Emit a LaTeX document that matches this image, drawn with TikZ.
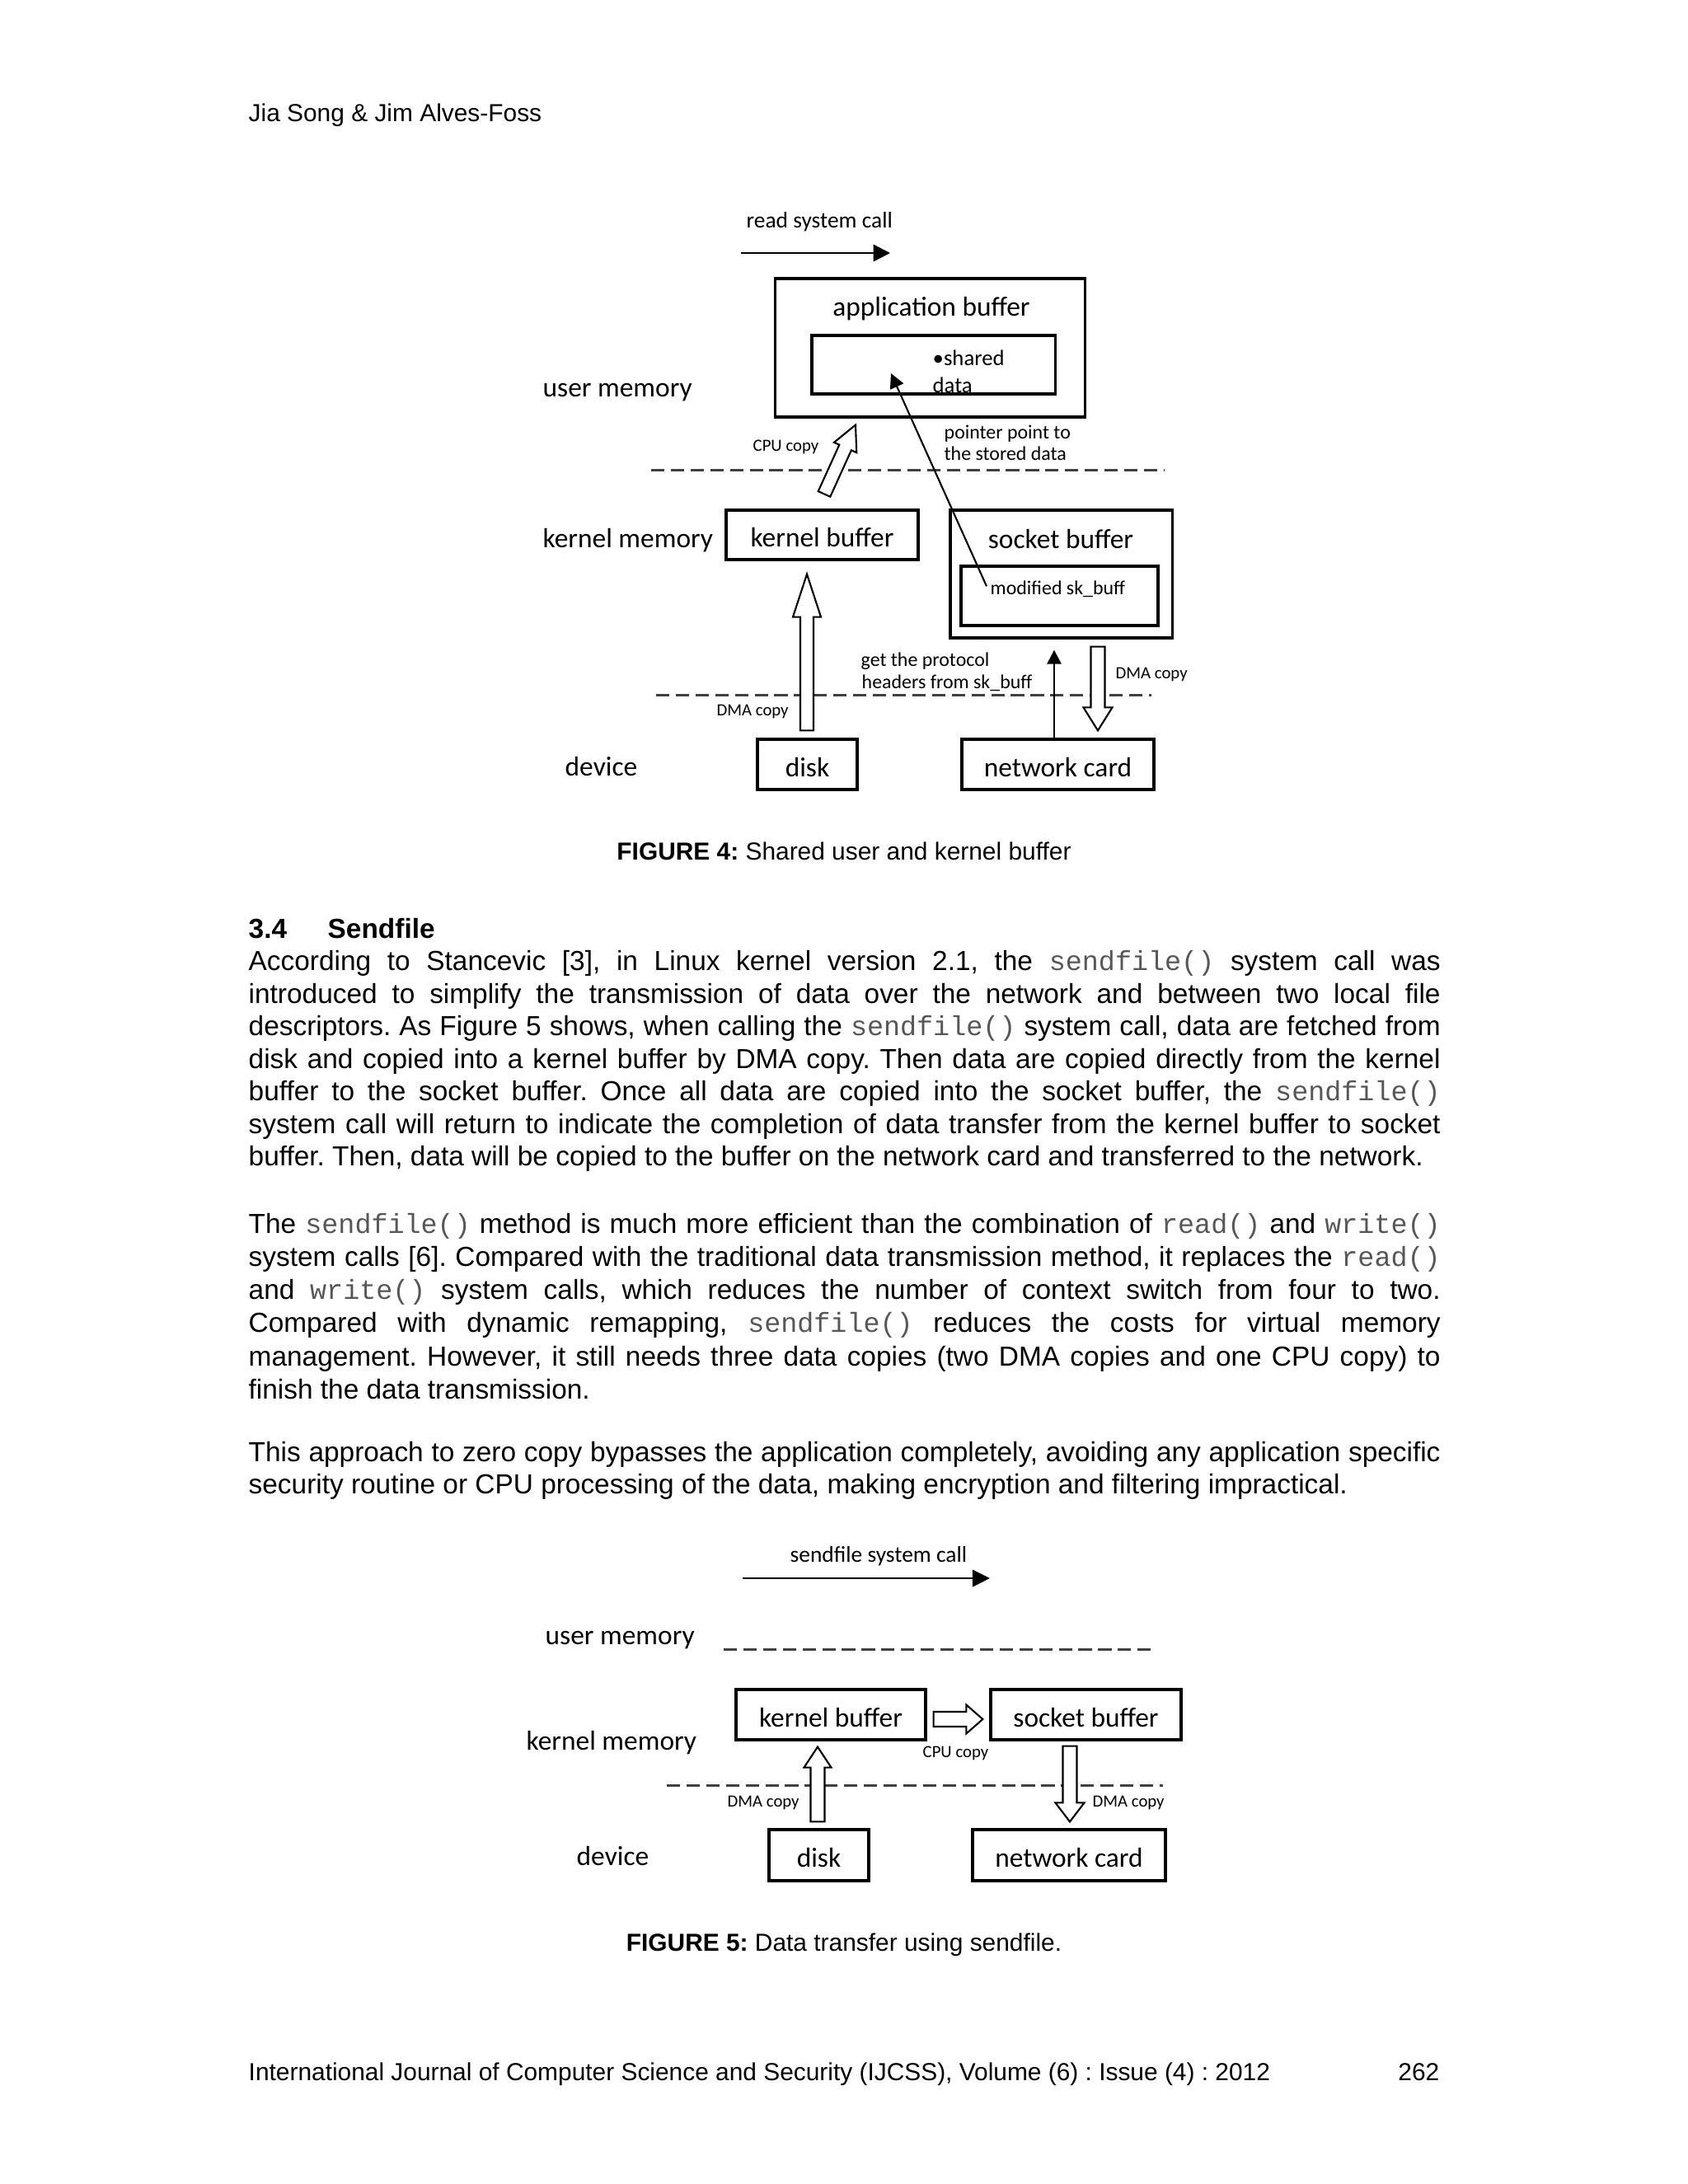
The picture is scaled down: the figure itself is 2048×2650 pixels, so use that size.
\documentclass[tikz,border=0pt]{standalone}
\usepackage{fontspec}
\setmainfont{Liberation Sans}
\setmonofont{Liberation Mono}
\newfontfamily\cali{Carlito}
\usetikzlibrary{calc,arrows.meta}
\frenchspacing
\newdimen\pxu \pxu=0.01cm
\def\pxd{0.28453pt}
\newcommand{\code}[1]{{\ttfamily\color{black!66}#1}}
\newcommand{\jl}[1]{\makebox[1446\pxu][s]{#1}}
% hollow block arrow: start, end, shaft half width, head half width, head length (px)
\newcommand{\harrow}[5]{%
  \coordinate (hA) at (#1);
  \coordinate (hB) at (#2);
  \coordinate (hC) at ($(hB)!{#5*\pxd}!(hA)$);
  \draw[hollow] ($(hA)!{#3*\pxd}!90:(hB)$) -- ($(hC)!{#3*\pxd}!-90:(hA)$)
    -- ($(hC)!{#4*\pxd}!-90:(hA)$) -- (hB) -- ($(hC)!{#4*\pxd}!90:(hA)$)
    -- ($(hC)!{#3*\pxd}!90:(hA)$) -- ($(hA)!{#3*\pxd}!-90:(hB)$) -- cycle;}
\tikzset{
  body/.style={font=\fontsize{9.5}{11}\selectfont, inner sep=0, anchor=base west},
  capt/.style={font=\fontsize{8.5}{10}\selectfont, inner sep=0},
  lab/.style={font=\cali\fontsize{9.5}{11}\selectfont, inner sep=0},
  labw/.style={lab, anchor=base west},
  callt/.style={font=\cali\fontsize{7.8}{9}\selectfont, inner sep=0, anchor=base west},
  sharedt/.style={font=\cali\fontsize{7.6}{9}\selectfont, inner sep=0, anchor=base west},
  notet/.style={font=\cali\fontsize{6.8}{8}\selectfont, inner sep=0, anchor=base west},
  copyt/.style={font=\cali\fontsize{5.9}{7}\selectfont, inner sep=0, anchor=base west},
  box/.style={draw, line width=0.9pt, inner sep=0, text height=0.85em, text depth=0pt,
    font=\cali\fontsize{9.5}{11}\selectfont},
  divider/.style={draw=black!75, line width=0.85pt, dash pattern=on 4.6pt off 2.2pt},
  hollow/.style={draw, line width=0.6pt, fill=white, line join=miter},
  callarrow/.style={line width=0.7pt, -{Triangle[length=5.8pt,width=5.8pt]}},
  ptr/.style={line width=0.6pt, -{Triangle[length=5pt,width=5pt]}},
}
\begin{document}
\begin{tikzpicture}[x=0.01cm, y=-0.01cm]
\fill[white] (0,0) rectangle (2048,2650);
\useasboundingbox (0,0) rectangle (2048,2650);

% header
\node[capt, anchor=base west] (hdr) at (301,147) {Jia Song \& Jim Alves-Foss};

% ================= FIGURE 4 =================
\node[callt] (rsc) at (905,276) {read system call};
\coordinate (rsa1) at (899,307);
\coordinate (rsa2) at (1080,307);
\draw[callarrow] (rsa1) -- (rsa2);

\node[box, minimum width={375*\pxd}, minimum height={168*\pxd}] (app) at (1128.5,422) {};
\node[lab] (appt) at (1130,375) {application buffer};
\node[box, minimum width={295*\pxd}, minimum height={71*\pxd}] (shd) at (1132.5,442.5) {};
\node[sharedt] (shdt) at (1131,443) {•shared};
\node[sharedt] (datat) at (1131,476) {data};

\node[labw] (um4) at (658,481) {user memory};
\node[labw] (km4) at (658,664) {kernel memory};
\node[labw] (dev4) at (685,941) {device};

\coordinate (d1a) at (790,570);
\coordinate (d1b) at (1413,570);
\draw[divider] (d1a) -- (d1b);
\coordinate (d2a) at (796,843);
\coordinate (d2b) at (1397,843);
\draw[divider] (d2a) -- (d2b);

\node[box, minimum width={233*\pxd}, minimum height={60*\pxd}] (kb) at (997.5,649) {kernel buffer};
\node[box, minimum width={269*\pxd}, minimum height={155*\pxd}] (sock) at (1287.5,696.5) {};
\node[lab] (sockt) at (1287,654) {socket buffer};
\node[box, minimum width={239*\pxd}, minimum height={72*\pxd}] (skb) at (1285.5,723) {};
\node[notet] (skbt) at (1201,721) {modified sk\_buff};

\node[box, minimum width={121*\pxd}, minimum height={61*\pxd}] (disk) at (979.5,927.5) {disk};
\node[box, minimum width={233*\pxd}, minimum height={61*\pxd}] (nc) at (1283.5,927.5) {network card};

\node[copyt] (cpu4) at (913,547) {CPU copy};
\node[notet] (ptrt1) at (1145,532) {pointer point to};
\node[notet] (ptrt2) at (1145,558) {the stored data};
\node[notet] (gpt1) at (1044,808) {get the protocol};
\node[notet] (gpt2) at (1045,835) {headers from sk\_buff};
\node[copyt] (dma4l) at (869,868) {DMA copy};
\node[copyt] (dma4r) at (1353,823) {DMA copy};

% CPU copy hollow arrow (kernel buffer -> application buffer)
\coordinate (cpus) at ($(kb.north)+(2.5,-18)$);
\coordinate (cpue) at ($(app.south)+(-90.5,8)$);
\harrow{cpus}{cpue}{8}{15}{30}

% pointer from modified sk_buff to shared data
\coordinate (ptrs) at ($(skbt.west)+(-4,-3)$);
\coordinate (ptre) at (1081,453);
\draw[ptr] (ptrs) -- (ptre);

% DMA copy disk -> kernel buffer
\coordinate (dks) at ($(disk.north)+(-0.5,-9)$);
\coordinate (dke) at ($(kb.south)+(-18.5,16)$);
\harrow{dks}{dke}{8}{17}{52}

% network card -> socket buffer (solid)
\coordinate (ncs) at ($(nc.north)+(-4.5,0)$);
\coordinate (nce) at ($(sock.south)+(-8.5,13)$);
\draw[ptr, line width=0.75pt, -{Triangle[length=4.8pt,width=4.8pt]}] (ncs) -- (nce);

% DMA copy socket buffer -> network card
\coordinate (snc1) at ($(sock.south)+(44.5,9)$);
\coordinate (snc2) at ($(nc.north)+(48.5,-9)$);
\harrow{snc1}{snc2}{8.5}{17.5}{28}

\node[capt, anchor=base] (cap4) at (1024,1043) {\textbf{FIGURE 4:} Shared user and kernel buffer};

% ================= TEXT =================
\node[body, font=\bfseries\fontsize{9.5}{11}\selectfont] (secn) at (301,1138) {3.4};
\node[body, font=\bfseries\fontsize{9.5}{11}\selectfont] (sect) at (397,1138) {Sendfile};

\node[body] (p1a) at (301,1177) {\jl{According to Stancevic [3], in Linux kernel version 2.1, the \code{sendfile()} system call was}};
\node[body] (p1b) at (301,1217) {\jl{introduced to simplify the transmission of data over the network and between two local file}};
\node[body] (p1c) at (301,1256) {\jl{descriptors. As Figure 5 shows, when calling the \code{sendfile()} system call, data are fetched from}};
\node[body] (p1d) at (301,1296) {\jl{disk and copied into a kernel buffer by DMA copy. Then data are copied directly from the kernel}};
\node[body] (p1e) at (301,1335) {\jl{buffer to the socket buffer. Once all data are copied into the socket buffer, the \code{sendfile()}}};
\node[body] (p1f) at (301,1375) {\jl{system call will return to indicate the completion of data transfer from the kernel buffer to socket}};
\node[body] (p1g) at (301,1414) {buffer. Then, data will be copied to the buffer on the network card and transferred to the network.};

\node[body] (p2a) at (301,1496) {\jl{The \code{sendfile()} method is much more efficient than the combination of \code{read()} and \code{write()}}};
\node[body] (p2b) at (301,1536) {\jl{system calls [6]. Compared with the traditional data transmission method, it replaces the \code{read()}}};
\node[body] (p2c) at (301,1576) {\jl{and \code{write()} system calls, which reduces the number of context switch from four to two.}};
\node[body] (p2d) at (301,1616) {\jl{Compared with dynamic remapping, \code{sendfile()} reduces the costs for virtual memory}};
\node[body] (p2e) at (301,1657) {\jl{management. However, it still needs three data copies (two DMA copies and one CPU copy) to}};
\node[body] (p2f) at (301,1697) {finish the data transmission.};

\node[body] (p3a) at (301,1773) {\jl{This approach to zero copy bypasses the application completely, avoiding any application specific}};
\node[body] (p3b) at (301,1812) {security routine or CPU processing of the data, making encryption and filtering impractical.};

% ================= FIGURE 5 =================
\node[callt] (sfc) at (958,1895) {sendfile system call};
\coordinate (sfa1) at (901,1915);
\coordinate (sfa2) at (1201,1915);
\draw[callarrow, -{Triangle[length=6pt,width=5.8pt]}] (sfa1) -- (sfa2);

\node[labw] (um5) at (661,1995) {user memory};
\node[labw] (km5) at (638,2123) {kernel memory};
\node[labw] (dev5) at (699,2263) {device};

\coordinate (e1a) at (878,2001);
\coordinate (e1b) at (1403,2001);
\draw[divider] (e1a) -- (e1b);
\coordinate (e2a) at (809,2166);
\coordinate (e2b) at (1411,2166);
\draw[divider] (e2a) -- (e2b);

\node[box, minimum width={230*\pxd}, minimum height={61*\pxd}] (kb5) at (1008,2080.5) {kernel buffer};
\node[box, minimum width={231*\pxd}, minimum height={61*\pxd}] (sb5) at (1317.5,2080.5) {socket buffer};
\node[box, minimum width={121*\pxd}, minimum height={62*\pxd}] (disk5) at (993.5,2251) {disk};
\node[box, minimum width={234*\pxd}, minimum height={62*\pxd}] (nc5) at (1297,2251) {network card};

\node[copyt] (cpu5) at (1119,2132) {CPU copy};
\node[copyt] (dma5l) at (882,2192) {DMA copy};
\node[copyt] (dma5r) at (1325,2192) {DMA copy};

\coordinate (ks1) at ($(kb5.east)+(8,5.5)$);
\coordinate (ks2) at ($(sb5.west)+(-8,5.5)$);
\harrow{ks1}{ks2}{9}{17.5}{20}
\coordinate (dk1) at ($(disk5.north)+(-1.5,-8)$);
\coordinate (dk2) at ($(kb5.south)+(-16,7)$);
\harrow{dk1}{dk2}{8.5}{16.5}{25}
\coordinate (sn1) at ($(sb5.south)+(-19.5,6)$);
\coordinate (sn2) at ($(nc5.north)+(1,-8)$);
\harrow{sn1}{sn2}{8.5}{17.5}{23}

\node[capt, anchor=base] (cap5) at (1024,2367) {\textbf{FIGURE 5:} Data transfer using sendfile.};

% footer
\node[capt, anchor=base west] (ftl) at (301,2524) {International Journal of Computer Science and Security (IJCSS), Volume (6) : Issue (4) : 2012};
\node[capt, anchor=base east] (ftr) at (1747,2524) {262};
\end{tikzpicture}
\end{document}
